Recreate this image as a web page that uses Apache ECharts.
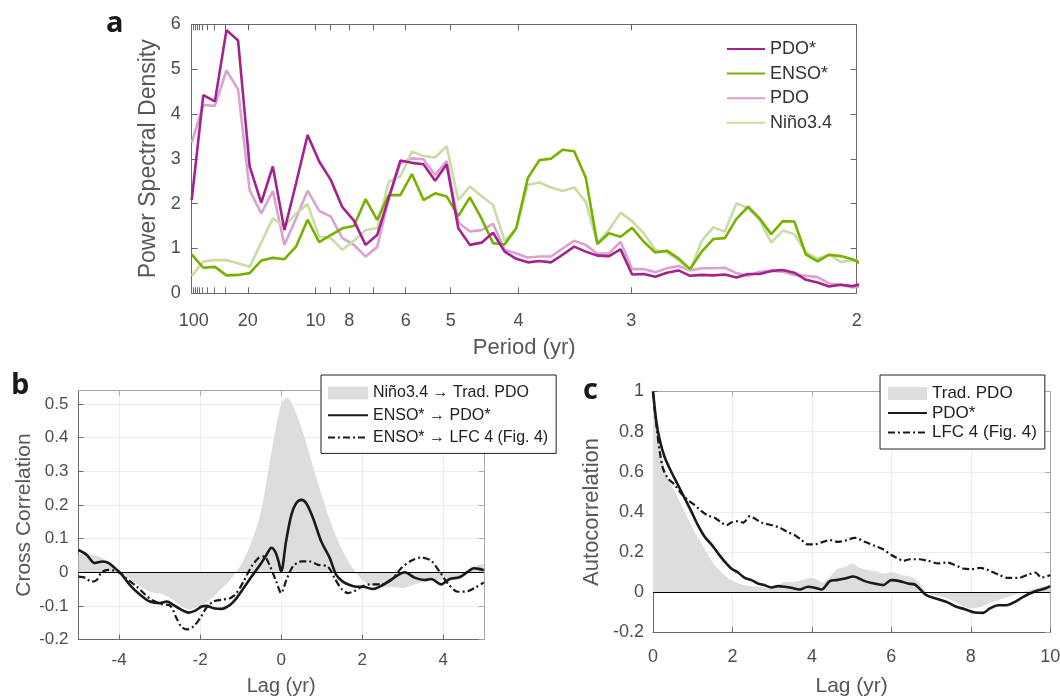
<!DOCTYPE html>
<html><head><meta charset="utf-8">
<script src="https://cdn.jsdelivr.net/npm/echarts@6/dist/echarts.min.js"></script>
<style>html,body{margin:0;padding:0;background:#fff}#chart{width:1060px;height:696px}</style>
</head><body><div id="chart"></div>
<script>
// ---------- Panel a: power spectra (frequency index k = 1..59, f = k / recordYears) ----------
const recordYears = 116.75;
const aPeriodTicks = [100, 90, 80, 70, 60, 50, 40, 30, 20, 10, 9, 8, 7, 6, 5, 4, 3, 2];
const aPeriodLabels = [100, 20, 10, 8, 6, 5, 4, 3, 2];
const aNames = ['PDO*', 'ENSO*', 'PDO', 'Niño3.4'];
const pdoStar = [2.08, 4.42, 4.28, 5.87, 5.64, 2.83, 2.02, 2.83, 1.41, 2.45, 3.53, 2.94, 2.53, 1.92, 1.62, 1.08, 1.30, 2.13, 2.96, 2.91, 2.88, 2.51, 2.88, 1.45, 1.08, 1.13, 1.35, 0.93, 0.77, 0.69, 0.72, 0.69, 0.86, 1.04, 0.93, 0.84, 0.83, 0.98, 0.42, 0.43, 0.37, 0.46, 0.51, 0.39, 0.41, 0.40, 0.42, 0.35, 0.43, 0.43, 0.50, 0.52, 0.46, 0.30, 0.24, 0.15, 0.19, 0.16, 0.22];
const ensoStar = [0.87, 0.57, 0.59, 0.40, 0.41, 0.45, 0.73, 0.79, 0.76, 1.04, 1.64, 1.14, 1.30, 1.45, 1.50, 2.10, 1.64, 2.19, 2.19, 2.66, 2.08, 2.23, 2.16, 1.72, 2.14, 1.67, 1.12, 1.09, 1.45, 2.57, 2.97, 3.00, 3.20, 3.17, 2.58, 1.10, 1.34, 1.26, 1.46, 1.15, 0.91, 0.95, 0.78, 0.54, 0.93, 1.21, 1.23, 1.66, 1.93, 1.67, 1.32, 1.61, 1.60, 0.86, 0.71, 0.86, 0.83, 0.76, 0.62];
const pdoTrad = [3.36, 4.20, 4.18, 4.97, 4.55, 2.30, 1.78, 2.28, 1.08, 1.67, 2.29, 1.84, 1.71, 1.23, 1.08, 0.82, 1.03, 2.10, 2.90, 3.01, 2.99, 2.64, 2.95, 1.58, 1.38, 1.41, 1.55, 0.97, 0.89, 0.80, 0.82, 0.82, 1.00, 1.17, 1.08, 0.88, 0.89, 1.15, 0.54, 0.54, 0.47, 0.56, 0.61, 0.51, 0.56, 0.56, 0.57, 0.45, 0.39, 0.48, 0.50, 0.48, 0.41, 0.39, 0.36, 0.22, 0.19, 0.13, 0.16];
const nino34 = [0.39, 0.71, 0.74, 0.74, 0.67, 0.59, 1.13, 1.67, 1.49, 1.78, 1.99, 1.26, 1.23, 0.97, 1.17, 1.41, 1.45, 2.49, 2.60, 3.16, 3.06, 3.03, 3.28, 2.08, 2.38, 2.17, 1.97, 1.17, 1.45, 2.42, 2.47, 2.36, 2.28, 2.36, 2.04, 1.12, 1.41, 1.80, 1.61, 1.34, 0.97, 0.91, 0.74, 0.50, 1.17, 1.47, 1.38, 2.01, 1.90, 1.63, 1.13, 1.40, 1.32, 0.91, 0.77, 0.86, 0.70, 0.73, 0.72];
const aYTicks = [0, 1, 2, 3, 4, 5, 6];

// ---------- Panel b: cross correlation ----------
const bLagTicks = [-4, -2, 0, 2, 4];
const bCorrTicks = [-0.2, -0.1, 0, 0.1, 0.2, 0.3, 0.4, 0.5];
const bNames = ['Niño3.4 → Trad. PDO', 'ENSO* → PDO*', 'ENSO* → LFC 4 (Fig. 4)'];
const bShadeLag = [-5, -4.75, -4.5, -4.25, -4, -3.75, -3.5, -3.25, -3, -2.75, -2.5, -2.25, -2, -1.75, -1.5, -1.25, -1, -0.75, -0.5, -0.25, 0, 0.15, 0.25, 0.5, 0.75, 1, 1.25, 1.5, 1.75, 2, 2.25, 2.5, 2.75, 3, 3.25, 3.5, 3.75, 4, 4.25, 4.5, 4.75, 5];
const bShadeVal = [0.055, 0.052, 0.047, 0.03, 0.005, -0.018, -0.04, -0.058, -0.063, -0.075, -0.098, -0.11, -0.1, -0.082, -0.052, -0.022, 0.02, 0.085, 0.18, 0.35, 0.5, 0.518, 0.505, 0.43, 0.33, 0.23, 0.14, 0.068, 0.015, -0.022, -0.04, -0.045, -0.044, -0.047, -0.038, -0.03, -0.025, -0.023, -0.022, -0.015, 0.015, 0.025];
const bSolidLag = [-5, -4.8, -4.6, -4.4, -4.25, -4.1, -3.96, -3.73, -3.48, -3.24, -2.99, -2.82, -2.66, -2.5, -2.29, -2.13, -1.96, -1.84, -1.67, -1.47, -1.26, -1.1, -0.93, -0.73, -0.52, -0.36, -0.24, -0.15, -0.07, 0, 0.12, 0.25, 0.37, 0.5, 0.62, 0.79, 0.99, 1.2, 1.36, 1.52, 1.69, 1.85, 2.02, 2.26, 2.51, 2.76, 3.05, 3.29, 3.54, 3.7, 3.95, 4.16, 4.4, 4.61, 4.75, 4.88, 5];
const bSolidVal = [0.066, 0.052, 0.027, 0.032, 0.027, 0.012, -0.003, -0.038, -0.067, -0.087, -0.092, -0.087, -0.097, -0.109, -0.12, -0.115, -0.102, -0.1, -0.107, -0.109, -0.097, -0.077, -0.048, -0.013, 0.022, 0.052, 0.073, 0.062, 0.035, 0.002, 0.091, 0.17, 0.205, 0.215, 0.205, 0.16, 0.091, 0.042, -0.008, -0.028, -0.038, -0.043, -0.043, -0.05, -0.038, -0.018, 0.0, -0.016, -0.023, -0.02, -0.036, -0.02, -0.015, 0.002, 0.012, 0.01, 0.006];
const bDashLag = [-5, -4.84, -4.68, -4.55, -4.43, -4.26, -4.1, -3.97, -3.77, -3.56, -3.35, -3.15, -2.95, -2.74, -2.58, -2.46, -2.33, -2.17, -2, -1.84, -1.67, -1.47, -1.26, -1.1, -0.93, -0.73, -0.56, -0.42, -0.3, -0.12, 0, 0.13, 0.29, 0.5, 0.7, 0.91, 1.15, 1.32, 1.48, 1.65, 1.81, 2.02, 2.22, 2.47, 2.72, 2.96, 3.21, 3.46, 3.7, 3.91, 4.11, 4.36, 4.61, 4.8, 5];
const bDashVal = [-0.013, -0.016, -0.028, -0.023, 0.0, 0.007, 0.004, -0.003, -0.023, -0.043, -0.067, -0.085, -0.095, -0.099, -0.137, -0.162, -0.17, -0.162, -0.137, -0.105, -0.087, -0.082, -0.077, -0.062, -0.028, 0.017, 0.042, 0.047, 0.025, -0.028, -0.062, -0.023, 0.017, 0.032, 0.032, 0.022, 0.017, -0.018, -0.048, -0.062, -0.056, -0.041, -0.036, -0.036, -0.023, 0.012, 0.034, 0.044, 0.034, 0.002, -0.033, -0.058, -0.056, -0.045, -0.03];

// ---------- Panel c: autocorrelation ----------
const cLagTicks = [0, 2, 4, 6, 8, 10];
const cCorrTicks = [-0.2, 0, 0.2, 0.4, 0.6, 0.8, 1];
const cNames = ['Trad. PDO', 'PDO*', 'LFC 4 (Fig. 4)'];
const cShadeLag = [0, 0.126, 0.25, 0.38, 0.55, 0.71, 0.88, 1.05, 1.22, 1.39, 1.55, 1.72, 1.89, 2.06, 2.23, 2.39, 2.64, 2.9, 3.15, 3.32, 3.57, 3.74, 3.99, 4.16, 4.28, 4.45, 4.62, 4.83, 5.04, 5.16, 5.42, 5.67, 5.84, 6, 6.26, 6.51, 6.68, 6.84, 7.01, 7.26, 7.51, 7.77, 8.02, 8.27, 8.44, 8.69, 8.94, 9.2, 9.45, 9.7, 9.95, 10];
const cShadeVal = [1.0, 0.816, 0.65, 0.567, 0.5, 0.434, 0.367, 0.3, 0.243, 0.185, 0.135, 0.101, 0.071, 0.052, 0.038, 0.032, 0.027, 0.022, 0.035, 0.052, 0.052, 0.06, 0.071, 0.06, 0.048, 0.076, 0.113, 0.126, 0.143, 0.126, 0.11, 0.101, 0.093, 0.101, 0.085, 0.076, 0.052, 0.01, -0.012, -0.023, -0.04, -0.065, -0.081, -0.073, -0.057, -0.04, -0.023, -0.007, 0.01, 0.022, 0.035, 0.035];
const cSolidLag = [0, 0.084, 0.17, 0.29, 0.46, 0.63, 0.8, 0.97, 1.13, 1.3, 1.47, 1.64, 1.81, 1.97, 2.14, 2.31, 2.48, 2.64, 2.81, 2.98, 3.15, 3.32, 3.48, 3.69, 3.9, 4.07, 4.24, 4.45, 4.62, 4.83, 5.04, 5.33, 5.58, 5.79, 6, 6.21, 6.42, 6.59, 6.72, 6.88, 7.05, 7.26, 7.43, 7.64, 7.85, 8.1, 8.31, 8.48, 8.69, 8.9, 9.11, 9.32, 9.53, 9.7, 9.87, 10];
const cSolidVal = [1.0, 0.85, 0.758, 0.675, 0.6, 0.534, 0.467, 0.4, 0.334, 0.276, 0.238, 0.193, 0.151, 0.118, 0.098, 0.071, 0.06, 0.043, 0.035, 0.023, 0.03, 0.027, 0.022, 0.013, 0.027, 0.022, 0.013, 0.055, 0.06, 0.068, 0.078, 0.055, 0.043, 0.035, 0.06, 0.055, 0.043, 0.038, 0.015, -0.015, -0.028, -0.04, -0.052, -0.073, -0.085, -0.101, -0.103, -0.081, -0.065, -0.065, -0.048, -0.023, -0.003, 0.01, 0.018, 0.03];
const cDashLag = [0, 0.084, 0.17, 0.25, 0.38, 0.55, 0.71, 0.88, 1.05, 1.22, 1.39, 1.55, 1.72, 1.85, 1.97, 2.14, 2.27, 2.44, 2.56, 2.73, 2.98, 3.19, 3.4, 3.57, 3.74, 3.9, 4.07, 4.24, 4.45, 4.66, 4.87, 5.08, 5.33, 5.58, 5.79, 6, 6.17, 6.3, 6.47, 6.68, 6.93, 7.18, 7.39, 7.6, 7.81, 8.02, 8.23, 8.44, 8.69, 8.94, 9.2, 9.45, 9.62, 9.78, 9.95, 10];
const cDashVal = [1.0, 0.833, 0.7, 0.617, 0.567, 0.534, 0.492, 0.459, 0.434, 0.404, 0.381, 0.371, 0.347, 0.334, 0.347, 0.354, 0.347, 0.379, 0.367, 0.347, 0.334, 0.321, 0.298, 0.284, 0.259, 0.238, 0.238, 0.248, 0.259, 0.251, 0.259, 0.271, 0.251, 0.231, 0.214, 0.185, 0.168, 0.156, 0.164, 0.164, 0.156, 0.143, 0.148, 0.135, 0.118, 0.115, 0.121, 0.11, 0.088, 0.071, 0.071, 0.088, 0.098, 0.073, 0.081, 0.085];

// ---------- build ----------
const FONT = "'Liberation Sans', Arial, Helvetica, sans-serif";
const LBL = '#4d4d4d', NAMEC = '#575757', AX = '#6a6a6a', AX2 = '#a8a8a8', GRIDC = '#ececec', SHADE = '#dcdddf';
// invisible legend marker: two tiny dots at the corners of a large box
const NOSYM = 'path://M0,0h0.01v0.01h-0.01z M100,100h0.01v0.01h-0.01z';
const pairs = (xs, ys) => xs.map((x, i) => [x, ys[i]]);
const spec = arr => arr.map((v, i) => [(i + 1) / recordYears, v]);
const fmin = 1 / recordYears;

function ax(grid, pos, min, max, ticks, labels, o) {
  o = o || {};
  return {
    gridIndex: grid, type: 'value', position: pos, min: min, max: max,
    axisLine: { show: true, onZero: false, lineStyle: { color: o.lineColor || AX, width: 1 } },
    axisTick: { show: true, inside: true, length: o.tickLen || 6, customValues: ticks, lineStyle: { color: o.lineColor || AX } },
    axisLabel: labels ? { show: true, customValues: labels, formatter: o.fmt, color: LBL, fontSize: o.fs, fontFamily: FONT, margin: o.margin } : { show: false },
    splitLine: { show: !!o.split, lineStyle: { color: GRIDC, width: 1 } },
    name: o.name, nameLocation: 'middle', nameGap: o.nameGap,
    nameTextStyle: { color: NAMEC, fontSize: o.nameFs, fontFamily: FONT }
  };
}

const aFreqTicks = aPeriodTicks.map(p => 1 / p);
const aFreqLabels = aPeriodLabels.map(p => 1 / p);

function lineSeries(name, xi, data, color, width, dash, smooth) {
  return { name: name, type: 'line', xAxisIndex: xi, yAxisIndex: xi, data: data,
    symbol: NOSYM, showSymbol: false, smooth: smooth || false, color: color,
    lineStyle: { width: width, type: dash || 'solid', color: color } };
}
function shadeSeries(name, xi, data) {
  return { name: name, type: 'line', xAxisIndex: xi, yAxisIndex: xi, data: data,
    symbol: 'none', smooth: 0.3, color: SHADE,
    itemStyle: { color: SHADE }, lineStyle: { width: 0, color: SHADE },
    areaStyle: { color: SHADE, opacity: 1, origin: 'auto' },
    markLine: { silent: true, symbol: 'none', label: { show: false }, animation: false,
      lineStyle: { color: '#000', width: 1.2, type: 'solid' }, data: [{ yAxis: 0 }] } };
}
const DASHDOT = [7, 3, 2, 3];
const legendItems = (prefix, names) => names.map((n, i) => i === 0
  ? { name: prefix + n, icon: 'rect', itemStyle: { color: SHADE, borderWidth: 0 } }
  : { name: prefix + n });

const option = {
  animation: false,
  backgroundColor: '#ffffff',
  grid: [
    { left: 191.7, top: 24.3, width: 665, height: 269, containLabel: false, outerBoundsMode: 'none' },
    { left: 78.5, top: 390.6, width: 405.3, height: 248.9, containLabel: false, outerBoundsMode: 'none' },
    { left: 653, top: 391.5, width: 397.3, height: 240.8, containLabel: false, outerBoundsMode: 'none' }
  ],
  xAxis: [
    ax(0, 'bottom', fmin, 0.5, aFreqTicks, aFreqLabels, { fmt: v => String(Math.round(1 / v)), fs: 18, margin: 19, name: 'Period (yr)', nameGap: 44, nameFs: 22 }),
    ax(0, 'top', fmin, 0.5, aFreqTicks, null, {}),
    ax(1, 'bottom', -5, 5, bLagTicks, bLagTicks, { fs: 17, margin: 12, split: true, tickLen: 5, name: 'Lag (yr)', nameGap: 37, nameFs: 20 }),
    ax(1, 'top', -5, 5, bLagTicks, null, { lineColor: AX2, tickLen: 5 }),
    ax(2, 'bottom', 0, 10, cLagTicks, cLagTicks, { fs: 18, margin: 16, split: true, tickLen: 5, name: 'Lag (yr)', nameGap: 43, nameFs: 21 }),
    ax(2, 'top', 0, 10, cLagTicks, null, { lineColor: AX2, tickLen: 5 })
  ],
  yAxis: [
    ax(0, 'left', 0, 6, aYTicks, aYTicks, { fs: 18, margin: 11, name: 'Power Spectral Density', nameGap: 25, nameFs: 23 }),
    ax(0, 'right', 0, 6, aYTicks, null, {}),
    ax(1, 'left', -0.2, 0.54, bCorrTicks, bCorrTicks, { fs: 17, margin: 10, split: true, tickLen: 5, name: 'Cross Correlation', nameGap: 44, nameFs: 21 }),
    ax(1, 'right', -0.2, 0.54, bCorrTicks, null, { lineColor: AX2, tickLen: 5 }),
    ax(2, 'left', -0.2, 1, cCorrTicks, cCorrTicks, { fs: 18, margin: 9, split: true, tickLen: 5, name: 'Autocorrelation', nameGap: 50, nameFs: 22 }),
    ax(2, 'right', -0.2, 1, cCorrTicks, null, { lineColor: AX2, tickLen: 5 })
  ],
  legend: [
    { data: aNames, orient: 'vertical', left: 726, top: 40, padding: 0, itemWidth: 38, itemHeight: 14, itemGap: 6.6,
      textStyle: { fontSize: 18, color: '#333', fontFamily: FONT }, selectedMode: false },
    { data: legendItems('b:', bNames), orient: 'vertical', left: 321, top: 375, padding: [10, 8, 8, 6], itemWidth: 40, itemHeight: 13, itemGap: 6.2,
      formatter: n => n.slice(2), borderColor: '#222', borderWidth: 1, backgroundColor: '#fff',
      textStyle: { fontSize: 16, color: '#222', fontFamily: FONT }, selectedMode: false, z: 10 },
    { data: legendItems('c:', cNames), orient: 'vertical', left: 880, top: 375, padding: [10, 8, 8, 7], itemWidth: 39, itemHeight: 13, itemGap: 2.5,
      formatter: n => n.slice(2), borderColor: '#222', borderWidth: 1, backgroundColor: '#fff',
      textStyle: { fontSize: 17, color: '#222', fontFamily: FONT }, selectedMode: false, z: 10 }
  ],
  graphic: [
    { type: 'text', left: 106, top: 9, style: { text: 'a', font: 'bold 29px "Open Sans", sans-serif', fill: '#1a1a1a' } },
    { type: 'text', left: 11, top: 371, style: { text: 'b', font: 'bold 29px "Open Sans", sans-serif', fill: '#1a1a1a' } },
    { type: 'text', left: 583, top: 376, style: { text: 'c', font: 'bold 29px "Open Sans", sans-serif', fill: '#1a1a1a' } }
  ],
  series: [
    lineSeries('PDO', 0, spec(pdoTrad), '#d9a3cf', 2.6),
    lineSeries('Niño3.4', 0, spec(nino34), '#cadca6', 2.6),
    lineSeries('ENSO*', 0, spec(ensoStar), '#76b100', 2.6),
    lineSeries('PDO*', 0, spec(pdoStar), '#a4228f', 2.6),

    shadeSeries('b:' + bNames[0], 2, pairs(bShadeLag, bShadeVal)),
    lineSeries('b:' + bNames[2], 2, pairs(bDashLag, bDashVal), '#1a1a1a', 2.2, DASHDOT, 0.3),
    lineSeries('b:' + bNames[1], 2, pairs(bSolidLag, bSolidVal), '#1a1a1a', 2.6, null, 0.3),

    shadeSeries('c:' + cNames[0], 4, pairs(cShadeLag, cShadeVal)),
    lineSeries('c:' + cNames[2], 4, pairs(cDashLag, cDashVal), '#1a1a1a', 2.2, DASHDOT, 0.3),
    lineSeries('c:' + cNames[1], 4, pairs(cSolidLag, cSolidVal), '#1a1a1a', 2.6, null, 0.3)
  ]
};

const chart = echarts.init(document.getElementById('chart'), null, { renderer: 'canvas', width: 1060, height: 696 });
chart.setOption(option);
</script></body></html>
